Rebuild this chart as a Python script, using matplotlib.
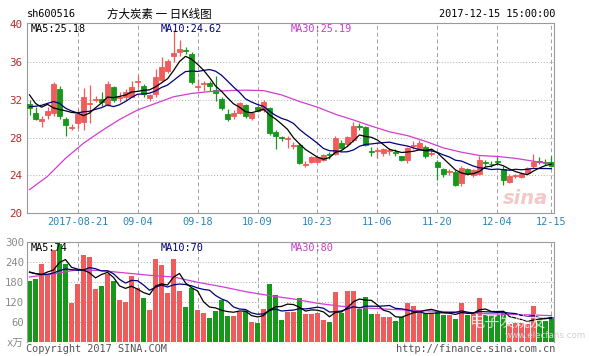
import matplotlib
matplotlib.use("Agg")
import matplotlib.pyplot as plt
import numpy as np
import pandas as pd

plt.rcParams['font.family'] = ['DejaVu Sans Mono', 'Noto Sans CJK SC']

# daily OHLC (2017-08-09 .. 2017-12-15)
opens = [31.5, 30.6, 29.7, 30.4, 30.6, 33.1, 30.0, 29.05, 29.5, 29.6,
         31.55, 32.0, 32.1, 31.5, 33.3, 32.2, 32.3, 32.3, 33.85, 33.4,
         32.2, 32.6, 34.1, 35.0, 36.6, 37.05, 37.25, 36.8, 33.35, 33.65,
         33.8, 33.0, 32.1, 30.5, 30.3, 30.6, 31.4, 30.1, 31.2, 30.9,
         31.1, 28.6, 28.05, 27.85, 27.15, 27.2, 25.15, 25.45, 25.4, 25.6,
         26.25, 26.3, 27.4, 27.3, 27.7, 29.25, 29.1, 26.55, 26.55, 26.4,
         26.55, 26.5, 26.0, 25.6, 27.1, 26.9, 27.0, 26.25, 25.45, 24.65,
         24.35, 24.4, 23.2, 24.65, 24.05, 24.2, 25.4, 25.25, 25.5, 24.65,
         23.35, 23.95, 23.85, 24.3, 25.0, 25.55, 25.45, 25.4]
highs = [32.0, 31.2, 30.3, 31.2, 33.9, 33.4, 30.2, 29.4, 31.0, 33.2,
         33.5, 32.4, 32.8, 34.0, 33.4, 32.8, 33.1, 34.0, 34.6, 33.6,
         32.6, 35.2, 36.5, 36.3, 39.3, 38.3, 37.6, 37.0, 34.2, 34.0,
         34.0, 34.5, 32.3, 31.0, 30.9, 31.8, 31.5, 30.7, 31.4, 32.0,
         31.2, 28.8, 28.2, 28.2, 27.5, 27.4, 25.5, 26.0, 26.0, 26.3,
         26.5, 28.2, 27.7, 28.2, 29.6, 29.5, 29.2, 27.0, 27.0, 26.9,
         26.9, 26.8, 26.1, 27.0, 27.6, 27.7, 27.2, 26.7, 25.6, 24.8,
         24.7, 24.6, 25.0, 24.8, 24.7, 26.0, 25.6, 25.5, 26.0, 25.0,
         24.1, 24.2, 24.4, 24.9, 26.3, 25.9, 25.7, 26.0]
lows = [30.4, 29.8, 29.1, 30.0, 30.3, 30.0, 28.2, 28.8, 29.0, 28.8,
        29.5, 31.8, 31.3, 31.3, 31.8, 31.8, 31.9, 32.3, 33.3, 32.3,
        31.9, 32.3, 33.9, 34.8, 36.0, 36.6, 36.8, 33.6, 32.9, 32.9,
        32.9, 31.9, 30.9, 29.7, 30.0, 30.5, 30.1, 29.9, 30.7, 30.7,
        28.3, 26.8, 27.6, 26.9, 26.8, 25.2, 24.9, 25.3, 25.3, 25.5,
        25.7, 26.2, 26.8, 27.1, 27.5, 28.8, 27.1, 26.1, 25.8, 26.1,
        26.2, 26.1, 25.5, 25.3, 26.8, 26.7, 25.8, 26.0, 23.5, 23.8,
        24.0, 22.9, 22.9, 24.0, 23.8, 24.0, 25.0, 24.9, 25.1, 23.0,
        23.2, 23.7, 23.7, 24.1, 24.8, 25.2, 25.1, 24.9]
closes = [31.1, 30.0, 30.0, 30.8, 33.7, 30.3, 29.3, 29.15, 30.5, 32.3,
          31.65, 32.1, 31.7, 33.6, 32.0, 32.3, 32.8, 33.3, 33.95, 32.6,
          32.5, 34.4, 35.4, 36.1, 36.9, 37.3, 37.15, 33.9, 33.45, 33.75,
          33.4, 32.7, 31.1, 30.0, 30.6, 31.6, 30.3, 30.6, 30.8, 31.7,
          28.5, 28.2, 27.95, 27.95, 27.25, 25.3, 25.25, 25.9, 25.9, 26.2,
          26.15, 28.0, 26.9, 28.1, 29.2, 29.15, 27.2, 26.45, 26.65, 26.8,
          26.65, 26.4, 25.6, 26.9, 27.2, 27.4, 26.0, 26.35, 24.9, 24.2,
          24.45, 23.0, 24.75, 24.2, 24.55, 25.6, 25.35, 25.2, 25.4, 23.5,
          23.9, 24.05, 24.2, 24.75, 25.45, 25.45, 25.35, 25.0]
# volume, x万
volumes = [183, 191, 234, 201, 276, 296, 234, 118, 174, 261,
           255, 159, 168, 206, 185, 128, 122, 200, 163, 133,
           97, 250, 233, 147, 250, 153, 107, 163, 98, 88,
           73, 94, 128, 78, 78, 91, 94, 60, 57, 99,
           175, 141, 66, 92, 92, 134, 84, 84, 88, 66,
           61, 151, 89, 154, 154, 101, 136, 84, 84, 76,
           76, 64, 76, 118, 109, 89, 89, 89, 94, 83,
           81, 71, 118, 81, 86, 133, 81, 81, 81, 89,
           55, 58, 58, 55, 108, 70, 63, 76]

# moving averages: first days need history before the window
ma5_head = [32.5, 31.6, 31.2, 31.5]
ma10_head = [31.25, 31.3, 31.4, 31.6, 31.8, 31.6, 31.1, 30.8, 30.6]
ma30_days = [0, 3, 6, 9, 12, 15, 18, 21, 24, 27, 30, 33, 36, 39, 42, 45, 48,
             51, 54, 57, 60, 63, 66, 69, 72, 75, 78, 81, 84, 87]
ma30_vals = [22.5, 23.9, 25.8, 27.4, 28.7, 29.9, 30.9, 31.6, 32.3, 32.65,
             32.85, 32.95, 33.0, 32.95, 32.5, 31.8, 31.2, 30.45, 29.85, 29.2,
             28.6, 28.2, 27.6, 26.9, 26.45, 26.1, 26.0, 25.8, 25.5, 25.2]
vma5_head = [211, 206, 203, 211]
vma10_head = [210, 206, 204, 204, 208, 215, 220, 218, 216]
vma30_days = [0, 4, 8, 12, 16, 20, 24, 28, 32, 36, 40, 44, 48, 52, 56, 60,
              64, 68, 72, 76, 80, 84, 87]
vma30_vals = [196, 205, 218, 215, 208, 201, 196, 180, 167, 152, 140, 130,
              117, 108, 103, 99, 96, 93, 90, 86, 84, 82, 80]

date_idx = [8, 18, 28, 38, 48, 58, 68, 78, 87]
date_labels = ["2017-08-21", "09-04", "09-18", "10-09", "10-23",
               "11-06", "11-20", "12-04", "12-15"]

RED = "#f05b5b"
GREEN = "#16981a"
W, H = 589, 356

df = pd.DataFrame({"o": opens, "h": highs, "l": lows, "c": closes, "v": volumes})
n = len(df)
x = np.arange(n)
up = df["c"] >= df["o"]
cols = np.where(up, RED, GREEN)


def moving(series, k, head):
    m = series.rolling(k).mean().to_numpy()
    m[:len(head)] = head
    return m


ma5 = moving(df["c"], 5, ma5_head)
ma10 = moving(df["c"], 10, ma10_head)
vma5 = moving(df["v"], 5, vma5_head)
vma10 = moving(df["v"], 10, vma10_head)

fig = plt.figure(figsize=(W / 100, H / 100), dpi=100)


def box(x0, y0, x1, y1):
    return [x0 / W, 1 - y1 / H, (x1 - x0) / W, (y1 - y0) / H]


def ftext(px, py, s, **kw):
    fig.text(px / W, 1 - py / H, s, **kw)


ax = fig.add_axes(box(26.7, 22.7, 554.3, 213.3))
vax = fig.add_axes(box(26.7, 242.3, 554.3, 342.3))

for a in (ax, vax):
    a.set_xlim(-0.47, n - 0.53)
    for s in a.spines.values():
        s.set_color("#9a9a9a")
        s.set_linewidth(0.8)
    for d in date_idx:
        a.axvline(d, color="#a0a0a0", lw=0.7, ls=(0, (4, 3)), zorder=0)
    a.tick_params(length=0)

# price panel
ax.set_ylim(20, 40.12)
for g in [24, 28, 32, 36]:
    ax.axhline(g, color="#b0b0b0", lw=0.7, ls=(0, (1, 2)), zorder=0)
ax.vlines(x, df["l"], df["h"], colors=cols, lw=0.9, zorder=2)
ax.bar(x, (df["c"] - df["o"]).abs(), bottom=np.minimum(df["o"], df["c"]),
       width=0.68, color=cols, edgecolor=cols, lw=0.6, zorder=3)
ax.plot(ma30_days, ma30_vals, color="#d23cd2", lw=0.9, zorder=4)
ax.plot(x, ma10, color="#00007a", lw=0.9, zorder=5)
ax.plot(x, ma5, color="black", lw=0.9, zorder=6)
ax.set_yticks([20, 24, 28, 32, 36, 40])
ax.set_yticklabels(["20", "24", "28", "32", "36", "40"], color="#b52a2a", fontsize=7.8)
ax.tick_params(axis="y", pad=3)
ax.set_xticks(date_idx)
ax.set_xticklabels(date_labels, color="#2b86b8", fontsize=7.4)
ax.tick_params(axis="x", pad=3)

# volume panel
vax.set_ylim(0, 300)
for g in [60, 120, 180, 240]:
    vax.axhline(g, color="#b0b0b0", lw=0.7, ls=(0, (1, 2)), zorder=0)
vax.bar(x, df["v"], width=0.82, color=cols, lw=0, zorder=2)
vax.plot(vma30_days, vma30_vals, color="#d23cd2", lw=0.9, zorder=4)
vax.plot(x, vma10, color="#00007a", lw=0.9, zorder=5)
vax.plot(x, vma5, color="black", lw=0.9, zorder=6)
vax.set_yticks([0, 60, 120, 180, 240, 300])
vax.set_yticklabels(["x万", "60", "120", "180", "240", "300"], color="#8a8a8a", fontsize=7.6)
vax.tick_params(axis="y", pad=2)
vax.set_xticks([])
vax.spines["bottom"].set_visible(False)

# header and legends
ftext(27, 14, "sh600516", fontsize=7.4, va="center", ha="left")
ftext(107, 14, "方大炭素 一 日K线图", fontsize=8.3, va="center", ha="left",
      family=["Noto Sans CJK SC", "DejaVu Sans"])
ftext(555, 14, "2017-12-15 15:00:00", fontsize=7.4, va="center", ha="right")
ftext(31, 29, "MA5:25.18", fontsize=7.4, va="center", color="black")
ftext(161, 29, "MA10:24.62", fontsize=7.4, va="center", color="#00007a")
ftext(291, 29, "MA30:25.19", fontsize=7.4, va="center", color="#c83cc8")
ftext(31, 248, "MA5:74", fontsize=7.4, va="center", color="black")
ftext(161, 248, "MA10:70", fontsize=7.4, va="center", color="#00007a")
ftext(291, 248, "MA30:80", fontsize=7.4, va="center", color="#c83cc8")
ftext(26, 349, "Copyright 2017 SINA.COM", fontsize=7.4, va="center", color="#555555")
ftext(555, 349, "http://finance.sina.com.cn", fontsize=7.4, va="center", ha="right", color="#555555")

# watermarks
ftext(548, 198, "sina", fontsize=14, va="center", ha="right", color="#f4c8c8",
      style="italic", weight="bold", family="DejaVu Sans")
ftext(545, 322, "电子发烧友", fontsize=11, va="center", ha="right", color="white", alpha=0.7,
      family=["Noto Sans CJK SC", "DejaVu Sans"])
ftext(586, 336, "www.elecfans.com", fontsize=6.3, va="center", ha="right", color="#d0d0d0",
      family="DejaVu Sans")

fig.savefig("out.png", dpi=100, facecolor="white")
